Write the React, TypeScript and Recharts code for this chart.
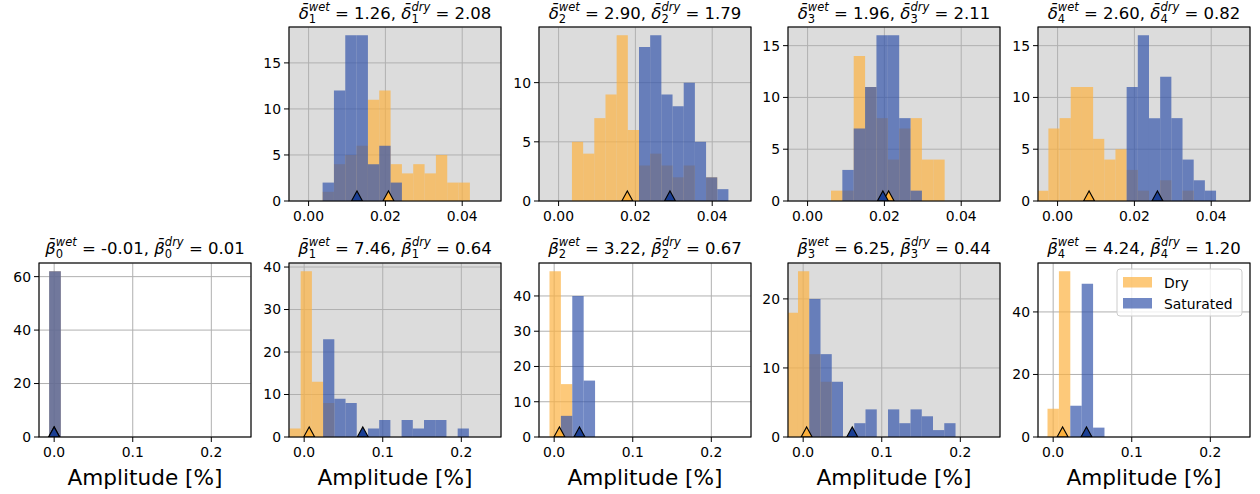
import React from 'react';
import { ComposedChart, XAxis, YAxis, CartesianGrid, ReferenceArea, Scatter } from 'recharts';

const FONT = 'DejaVu Sans, sans-serif';
const DRY = '#fcb241';
const WET = '#3456ab';
const DRY_MARK = '#fcb03c';
const WET_MARK = '#1b3f94';

// top row: delta means (in %) and histogram counts
const deltaWet = [1.26, 2.9, 1.96, 2.6];
const deltaDry = [2.08, 1.79, 2.11, 0.82];
const deltaBinStart = [0.00365, 0.00348, 0.00609, -0.0053];
const deltaBinWidth = [0.00295, 0.00291, 0.00296, 0.00291];
const deltaDryCounts = [
  [1, 4, 5, 6, 11, 12, 4, 3, 4, 3, 5, 2, 2],
  [5, 4, 7, 9, 14, 6, 3, 4, 3, 2, 3, 0, 2, 0],
  [1, 1, 14, 11, 8, 4, 7, 8, 4, 4],
  [1, 7, 8, 11, 11, 6, 4, 5, 3, 1, 0, 2, 0, 1, 0, 0],
];
const deltaWetCounts = [
  [2, 12, 18, 18, 4, 6, 2, 0, 0, 0, 0, 0, 0],
  [0, 0, 0, 0, 0, 0, 13, 14, 9, 8, 10, 5, 2, 1],
  [0, 3, 7, 11, 16, 16, 8, 1, 0, 0],
  [0, 0, 0, 0, 0, 0, 0, 0, 11, 16, 8, 12, 8, 4, 2, 1],
];
const deltaYTicks = [[0, 5, 10, 15], [0, 5, 10], [0, 5, 10, 15], [0, 5, 10, 15]];
const deltaXTicks = [0, 0.02, 0.04];

// bottom row: beta
const betaWet = [-0.01, 7.46, 3.22, 6.25, 4.24];
const betaDry = [0.01, 0.64, 0.67, 0.44, 1.2];
const betaBinStart = [-0.0064, -0.0187, -0.00595, -0.0209, -0.0072];
const betaBinWidth = [0.0149, 0.01427, 0.0145, 0.01432, 0.0145];
const betaDryCounts = [[62], [2, 39, 13, 8], [47, 15], [18, 24, 12, 8], [9, 53]];
const betaWetCounts = [
  [62],
  [0, 0, 0, 23, 9, 8, 0, 2, 4, 0, 4, 2, 4, 4, 0, 2],
  [0, 6, 40, 16],
  [0, 0, 20, 12, 8, 0, 2, 4, 0, 4, 2, 4, 3, 1, 2],
  [0, 0, 10, 49, 3],
];
const betaYTicks = [[0, 20, 40, 60], [0, 10, 20, 30, 40], [0, 10, 20, 30, 40], [0, 10, 20], [0, 20, 40]];
const betaXTicks = [0, 0.1, 0.2];
const betaShaded = [false, true, false, true, false];

const colLeft = [39, 289, 539, 788, 1038];
const rowTop = [27, 263];
const PW = 212;
const PH = 174;
const YW = 45;
const ALPHA = 0.7;

const triangle = (color: string) => (props: any) => {
  const { cx, cy } = props;
  return (
    <path
      d={`M${cx - 5.5},${cy} L${cx + 5.5},${cy} L${cx},${cy - 10} Z`}
      fill={color}
      stroke="#000"
      strokeWidth={1.1}
    />
  );
};

function Panel({ left, top, start, width, dry, wet, dryMean, wetMean, domain, xTicks, yTicks, digits, shaded }: any) {
  const ymax = Math.max(...dry, ...wet) * 1.05;
  const tick = { fill: '#000', fontSize: 13.9, fontFamily: FONT };
  return (
    <div style={{ position: 'absolute', left: left - YW, top: top - 5 }}>
      <ComposedChart width={YW + PW + 10} height={5 + PH + 30} margin={{ top: 5, right: 10, bottom: 0, left: 0 }}>
        <CartesianGrid fill={shaded ? '#dcdcdc' : '#ffffff'} fillOpacity={1} stroke="#b0b0b0" strokeWidth={1} />
        <XAxis
          type="number"
          dataKey="x"
          domain={domain}
          ticks={xTicks}
          interval={0}
          allowDataOverflow
          height={30}
          tickSize={5}
          tickMargin={5}
          axisLine={false}
          tickLine={{ stroke: '#000' }}
          tick={tick}
          tickFormatter={(v: number) => v.toFixed(digits)}
        />
        <YAxis
          type="number"
          dataKey="y"
          domain={[0, ymax]}
          ticks={yTicks}
          interval={0}
          allowDataOverflow
          width={YW}
          tickSize={5}
          tickMargin={3}
          axisLine={false}
          tickLine={{ stroke: '#000' }}
          tick={tick}
        />
        {dry.map((c: number, i: number) =>
          c > 0 ? (
            <ReferenceArea
              key={'d' + i}
              x1={start + i * width}
              x2={start + (i + 1) * width}
              y1={0}
              y2={c}
              fill={DRY}
              fillOpacity={ALPHA}
              stroke="none"
              ifOverflow="hidden"
            />
          ) : null
        )}
        {wet.map((c: number, i: number) =>
          c > 0 ? (
            <ReferenceArea
              key={'w' + i}
              x1={start + i * width}
              x2={start + (i + 1) * width}
              y1={0}
              y2={c}
              fill={WET}
              fillOpacity={ALPHA}
              stroke="none"
              ifOverflow="hidden"
            />
          ) : null
        )}
        <Scatter data={[{ x: dryMean / 100, y: 0 }]} shape={triangle(DRY_MARK)} isAnimationActive={false} />
        <Scatter data={[{ x: wetMean / 100, y: 0 }]} shape={triangle(WET_MARK)} isAnimationActive={false} />
      </ComposedChart>
    </div>
  );
}

function Title({ cx, y, sym, idx, wet, dry }: any) {
  const part = (label: string, val: number, last: boolean) => [
    <tspan key={label + 'a'} fontStyle="italic">{sym + '\u0304'}</tspan>,
    <tspan key={label + 'b'} fontSize={11.5} dy={4.5}>{idx}</tspan>,
    <tspan key={label + 'c'} fontSize={11.5} fontStyle="italic" dx={-7.3} dy={-12}>{label}</tspan>,
    <tspan key={label + 'd'} dy={7.5}>{` = ${val.toFixed(2)}${last ? '' : ', '}`}</tspan>,
  ];
  return (
    <text x={cx} y={y} textAnchor="middle" fontFamily={FONT} fontSize={16.5} fill="#000" style={{ whiteSpace: 'pre' }}>
      {part('wet', wet, false)}
      {part('dry', dry, true)}
    </text>
  );
}

export default function App() {
  return (
    <div style={{ position: 'absolute', left: 0, top: 0, width: 1260, height: 494, background: '#fff', overflow: 'hidden' }}>
      {deltaWet.map((w, k) => (
        <Panel
          key={'t' + k}
          left={colLeft[k + 1]}
          top={rowTop[0]}
          start={deltaBinStart[k]}
          width={deltaBinWidth[k]}
          dry={deltaDryCounts[k]}
          wet={deltaWetCounts[k]}
          dryMean={deltaDry[k]}
          wetMean={w}
          domain={[-0.0051, 0.0501]}
          xTicks={deltaXTicks}
          yTicks={deltaYTicks[k]}
          digits={2}
          shaded
        />
      ))}
      {betaWet.map((w, k) => (
        <Panel
          key={'b' + k}
          left={colLeft[k]}
          top={rowTop[1]}
          start={betaBinStart[k]}
          width={betaBinWidth[k]}
          dry={betaDryCounts[k]}
          wet={betaWetCounts[k]}
          dryMean={betaDry[k]}
          wetMean={w}
          domain={[-0.0193, 0.2505]}
          xTicks={betaXTicks}
          yTicks={betaYTicks[k]}
          digits={1}
          shaded={betaShaded[k]}
        />
      ))}
      <svg width={1260} height={494} style={{ position: 'absolute', left: 0, top: 0, pointerEvents: 'none' }}>
        {deltaWet.map((w, k) => (
          <g key={'ft' + k}>
            <rect x={colLeft[k + 1]} y={rowTop[0]} width={PW} height={PH} fill="none" stroke="#000" strokeWidth={1.1} />
            <Title cx={colLeft[k + 1] + PW / 2} y={18.5} sym={'\u03b4'} idx={k + 1} wet={w} dry={deltaDry[k]} />
          </g>
        ))}
        {betaWet.map((w, k) => (
          <g key={'fb' + k}>
            <rect x={colLeft[k]} y={rowTop[1]} width={PW} height={PH} fill="none" stroke="#000" strokeWidth={1.1} />
            <Title cx={colLeft[k] + PW / 2} y={253.5} sym={'\u03b2'} idx={k} wet={w} dry={betaDry[k]} />
            <text x={colLeft[k] + PW / 2} y={485} textAnchor="middle" fontFamily={FONT} fontSize={21.6} fill="#000">
              Amplitude [%]
            </text>
          </g>
        ))}
        <g>
          <rect x={1117} y={269} width={125} height={47} rx={3} fill="#fff" fillOpacity={0.8} stroke="#cccccc" />
          <rect x={1123} y={277} width={29} height={10.5} fill={DRY} fillOpacity={ALPHA} />
          <rect x={1123} y={298} width={29} height={10.5} fill={WET} fillOpacity={ALPHA} />
          <text x={1164} y={287.5} fontFamily={FONT} fontSize={13.9} fill="#000">Dry</text>
          <text x={1164} y={308.5} fontFamily={FONT} fontSize={13.9} fill="#000">Saturated</text>
        </g>
      </svg>
    </div>
  );
}
